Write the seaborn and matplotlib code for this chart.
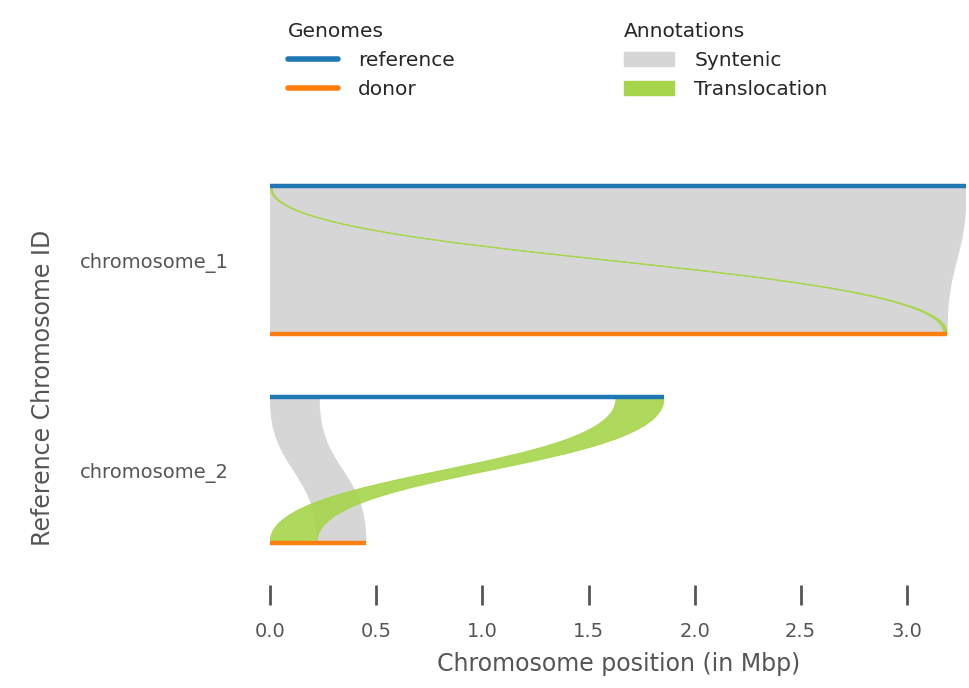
import matplotlib
matplotlib.use("Agg")
import matplotlib.pyplot as plt
import seaborn as sns
from matplotlib.path import Path
from matplotlib.patches import PathPatch
from matplotlib.lines import Line2D
from matplotlib.patches import Patch

sns.set_style("white")
plt.rcParams['font.family'] = ['DejaVu Sans']

# chromosome lengths (Mbp)
chroms = ["chromosome_1", "chromosome_2"]
ref_len = [3.28, 1.855]
don_len = [3.19, 0.45]
# y positions: (reference, donor)
ref_y = [2.445, 1.0]
don_y = [1.43, 0.0]

# alignments: chrom index, ref start, ref end, donor start, donor end
syn_chr = [0, 1]
syn_ref = [(0.0, 3.28), (0.0, 0.23)]
syn_don = [(0.0, 3.19), (0.22, 0.45)]

tra_chr = [0, 1]
tra_ref = [(0.0, 0.008), (1.63, 1.855)]
tra_don = [(3.175, 3.19), (0.0, 0.22)]

GREY = "#d6d6d6"
GREEN = "#a6d54a"
BLUE = "#1f77b4"
ORANGE = "#ff7f0e"


def band(ax, c, r, d, color, alpha, z):
    yt = ref_y[c] - 0.01
    yb = don_y[c] + 0.01
    ym = (yt + yb) / 2
    verts = [(r[0], yt), (r[0], ym), (d[0], ym), (d[0], yb),
             (d[1], yb), (d[1], ym), (r[1], ym), (r[1], yt), (r[0], yt)]
    codes = [Path.MOVETO, Path.CURVE4, Path.CURVE4, Path.CURVE4,
             Path.LINETO, Path.CURVE4, Path.CURVE4, Path.CURVE4, Path.CLOSEPOLY]
    ax.add_patch(PathPatch(Path(verts, codes), facecolor=color, edgecolor=color,
                           lw=0.8, alpha=alpha, zorder=z))


fig = plt.figure(figsize=(9.69, 6.88), dpi=100)
ax = fig.add_axes([0.279, 0.135, 0.718, 0.603])

for c, r, d in zip(syn_chr, syn_ref, syn_don):
    band(ax, c, r, d, GREY, 1.0, 1)
for c, r, d in zip(tra_chr, tra_ref, tra_don):
    band(ax, c, r, d, GREEN, 0.9, 3)

for i in range(len(chroms)):
    ax.plot([0, ref_len[i]], [ref_y[i], ref_y[i]], color=BLUE, lw=3.2, zorder=4, solid_capstyle="butt")
    ax.plot([0, don_len[i]], [don_y[i], don_y[i]], color=ORANGE, lw=3.2, zorder=4, solid_capstyle="butt")

ax.set_xlim(0, 3.28)
ax.set_ylim(-0.356, 2.486)
ax.set_xticks([0.0, 0.5, 1.0, 1.5, 2.0, 2.5, 3.0])
ax.set_xticklabels(["0.0", "0.5", "1.0", "1.5", "2.0", "2.5", "3.0"])
ax.set_yticks([(ref_y[i] + don_y[i]) / 2 for i in range(len(chroms))])
ax.set_yticklabels(chroms)
ax.xaxis.grid(True, color="white", ls=(0, (4, 3)), lw=1.5, zorder=2)
ax.yaxis.grid(True, color="white", ls="-", lw=1.5, zorder=2)
for gl in ax.get_xgridlines() + ax.get_ygridlines():
    gl.set_zorder(2)
for s in ax.spines.values():
    s.set_visible(False)
ax.tick_params(axis="x", bottom=True, direction="inout", length=14, width=2, color="#555555",
               labelsize=14, labelcolor="#555555", pad=12)
ax.tick_params(axis="y", left=False, length=0, labelsize=14, labelcolor="#555555", pad=30)
ax.set_xlabel("Chromosome position (in Mbp)", fontsize=17, color="#555555", labelpad=8)
ax.set_ylabel("Reference Chromosome ID", fontsize=17, color="#555555", labelpad=18)

h1 = [Line2D([], [], color=BLUE, lw=4), Line2D([], [], color=ORANGE, lw=4)]
fig.legend(h1, ["reference", "donor"], title="Genomes", loc="upper left",
           bbox_to_anchor=(0.278, 0.995), frameon=False, fontsize=14.5,
           title_fontsize=14.5, alignment="left", handlelength=2.5, labelspacing=0.5,
           handletextpad=1.0)
h2 = [Patch(color=GREY), Patch(color=GREEN)]
fig.legend(h2, ["Syntenic", "Translocation"], title="Annotations", loc="upper left",
           bbox_to_anchor=(0.625, 0.995), frameon=False, fontsize=14.5,
           title_fontsize=14.5, alignment="left", handlelength=2.5, labelspacing=0.5,
           handletextpad=1.0)

fig.savefig("out.png", dpi=100)
